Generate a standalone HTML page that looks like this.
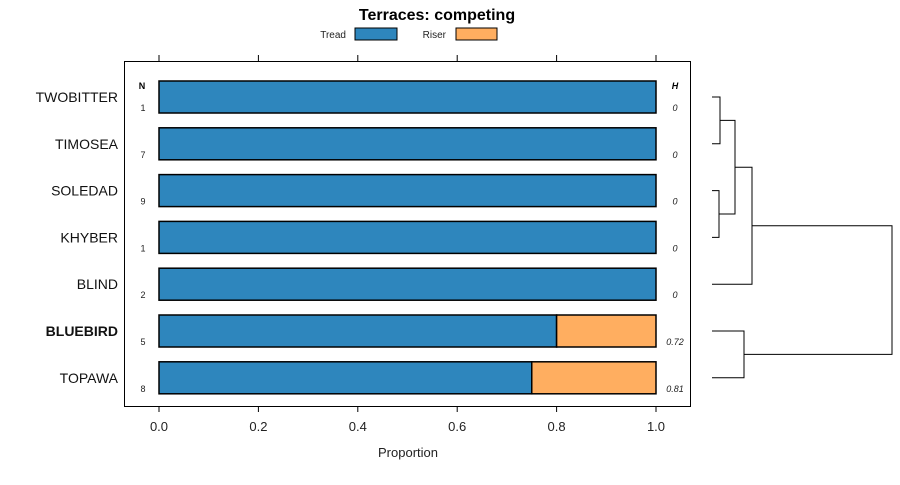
<!DOCTYPE html>
<html><head><meta charset="utf-8"><style>body{margin:0;background:#fff}svg{font-family:"Liberation Sans",sans-serif}</style></head>
<body>
<svg id="c" width="900" height="480">
<text x="437" y="20" text-anchor="middle" font-size="16" font-weight="bold">Terraces: competing</text>
<g>
<text x="346" y="38" text-anchor="end" font-size="10" fill="#222">Tread</text>
<rect x="355" y="28" width="42" height="12" fill="#2e86bd" stroke="#000"/>
<text x="446" y="38" text-anchor="end" font-size="10" fill="#222">Riser</text>
<rect x="456" y="28" width="41" height="12" fill="#ffae60" stroke="#000"/>
</g>
<rect x="124.5" y="61.5" width="566" height="345" fill="none" stroke="#000"/>
<text x="142" y="89" text-anchor="middle" font-size="9" font-weight="bold">N</text>
<text x="675" y="89" text-anchor="middle" font-size="9" font-weight="bold" font-style="italic">H</text>
<text x="408" y="457" text-anchor="middle" font-size="13" fill="#222">Proportion</text>
<g id="marks"></g>
</svg>
<script>
const categories=["TWOBITTER","TIMOSEA","SOLEDAD","KHYBER","BLIND","BLUEBIRD","TOPAWA"];
const tread=[1,1,1,1,1,0.8,0.75];
const riser=[0,0,0,0,0,0.2,0.25];
const nValues=["1","7","9","1","2","5","8"];
const hValues=["0","0","0","0","0","0.72","0.81"];
const ticks=[0,0.2,0.4,0.6,0.8,1.0];
const tickLabels=["0.0","0.2","0.4","0.6","0.8","1.0"];
const boldCategory="BLUEBIRD";
const NS="http://www.w3.org/2000/svg";
const g=document.getElementById('marks');
const xs=v=>159+v*497;
const ys=i=>97+i*46.8;
function mk(t,a,txt){const e=document.createElementNS(NS,t);for(const k in a)e.setAttribute(k,a[k]);if(txt!==undefined)e.textContent=txt;g.appendChild(e);return e;}
ticks.forEach((t,i)=>{
 let e=mk('line',{x1:xs(t),x2:xs(t),y1:55,y2:61,stroke:'#000'});
 
 
 e=mk('line',{x1:xs(t),x2:xs(t),y1:406,y2:412,stroke:'#000'});
 
 
 e=mk('text',{x:xs(t),y:431,'text-anchor':'middle','font-size':13,fill:'#222'},tickLabels[i]);
 
 
});
categories.forEach((c,i)=>{
 const y=ys(i);
 let e=mk('rect',{x:xs(0),y:y-16,width:xs(tread[i])-xs(0),height:32,fill:'#2e86bd',stroke:'#000','stroke-width':1.5});
 
 
 if(riser[i]>0){
  e=mk('rect',{x:xs(tread[i]),y:y-16,width:xs(tread[i]+riser[i])-xs(tread[i]),height:32,fill:'#ffae60',stroke:'#000','stroke-width':1.5});
  
  
 }
 e=mk('text',{x:118,y:y+5,'text-anchor':'end','font-size':14,fill:'#111','font-weight':c===boldCategory?'bold':'normal'},c);
 
 
 e=mk('text',{x:143,y:y+14,'text-anchor':'middle','font-size':9,fill:'#222'},nValues[i]);
 
 
 e=mk('text',{x:675,y:y+14,'text-anchor':'middle','font-size':9,'font-style':'italic',fill:'#222'},hValues[i]);
 
 
});
const merges=[[0,1,720],[2,3,719],[-1,-2,735],[-3,4,752],[5,6,744],[-4,-5,892]];
const nodeY=[],nodeX=[];
const pos=k=>k>=0?[712,ys(k)]:[nodeX[-k-1],nodeY[-k-1]];
merges.forEach((m,j)=>{
 const [ax,ay]=pos(m[0]),[bx,by]=pos(m[1]),h=m[2];
 const e=mk('path',{d:`M${ax},${ay}H${h}V${by}H${bx}`,fill:'none',stroke:'#000','stroke-width':1});
 
 
 nodeX.push(h);nodeY.push((ay+by)/2);
});
</script>
</body></html>
